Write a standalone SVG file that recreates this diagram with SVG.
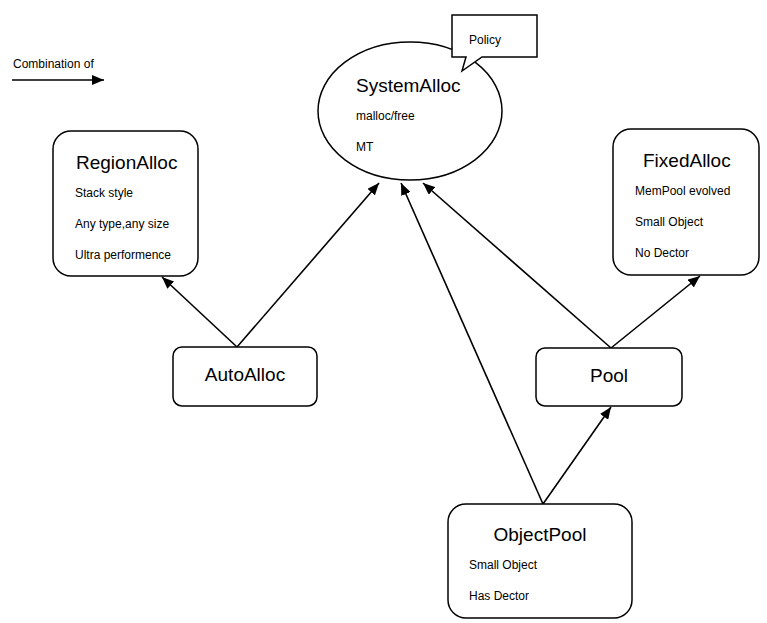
<svg xmlns="http://www.w3.org/2000/svg" width="767" height="623" viewBox="0 0 767 623">
<style>
.n{fill:#fff;stroke:#000;stroke-width:1.5}
.t{font-family:"Liberation Sans",Arial,sans-serif;font-size:19px;fill:#000}
.s{font-family:"Liberation Sans",Arial,sans-serif;font-size:12px;fill:#000}
.c{stroke:#000;stroke-width:1.6;fill:none;marker-end:url(#ah)}
</style>
<defs>
<marker id="ah" viewBox="0 0 12 10" refX="12" refY="5" markerWidth="12" markerHeight="10" markerUnits="userSpaceOnUse" orient="auto">
<path d="M0,0 L12,5 L0,10 Z" fill="#000"/>
</marker>
</defs>
<rect width="767" height="623" fill="#fff"/>
<g id="legend">
<text class="s" x="13" y="68">Combination of</text>
<line class="c" x1="12" y1="80" x2="104" y2="80"/>
</g>
<g id="connectors">
<line class="c" x1="237" y1="347" x2="162" y2="277"/>
<line class="c" x1="237" y1="347" x2="379" y2="183"/>
<line class="c" x1="543" y1="504" x2="401" y2="183"/>
<line class="c" x1="543" y1="504" x2="611" y2="407"/>
<line class="c" x1="611" y1="348" x2="423" y2="183"/>
<line class="c" x1="611" y1="348" x2="700" y2="276"/>
</g>
<g id="SystemAlloc">
<ellipse class="n" cx="410" cy="111" rx="92" ry="69"/>
<text class="t" x="356" y="92">SystemAlloc</text>
<text class="s" x="356" y="120">malloc/free</text>
<text class="s" x="356" y="151">MT</text>
</g>
<g id="Policy">
<path class="n" d="M452,15 H537 V57 H482 L462,71 L466,57 H452 Z"/>
<text class="s" x="469" y="44">Policy</text>
</g>
<g id="RegionAlloc">
<rect class="n" x="53" y="131" width="145" height="145" rx="18"/>
<text class="t" x="76" y="169">RegionAlloc</text>
<text class="s" x="75" y="197">Stack style</text>
<text class="s" x="75" y="228">Any type,any size</text>
<text class="s" x="75" y="259">Ultra performence</text>
</g>
<g id="FixedAlloc">
<rect class="n" x="613" y="129" width="146" height="146" rx="18"/>
<text class="t" x="643" y="167">FixedAlloc</text>
<text class="s" x="635" y="195">MemPool evolved</text>
<text class="s" x="635" y="226">Small Object</text>
<text class="s" x="635" y="257">No Dector</text>
</g>
<g id="AutoAlloc">
<rect class="n" x="173" y="347" width="144" height="59" rx="9"/>
<text class="t" x="245" y="381" text-anchor="middle">AutoAlloc</text>
</g>
<g id="Pool">
<rect class="n" x="536" y="348" width="146" height="58" rx="9"/>
<text class="t" x="609" y="382" text-anchor="middle">Pool</text>
</g>
<g id="ObjectPool">
<rect class="n" x="448" y="504" width="184" height="114" rx="18"/>
<text class="t" x="540" y="541" text-anchor="middle">ObjectPool</text>
<text class="s" x="469" y="569">Small Object</text>
<text class="s" x="469" y="600">Has Dector</text>
</g>
</svg>
